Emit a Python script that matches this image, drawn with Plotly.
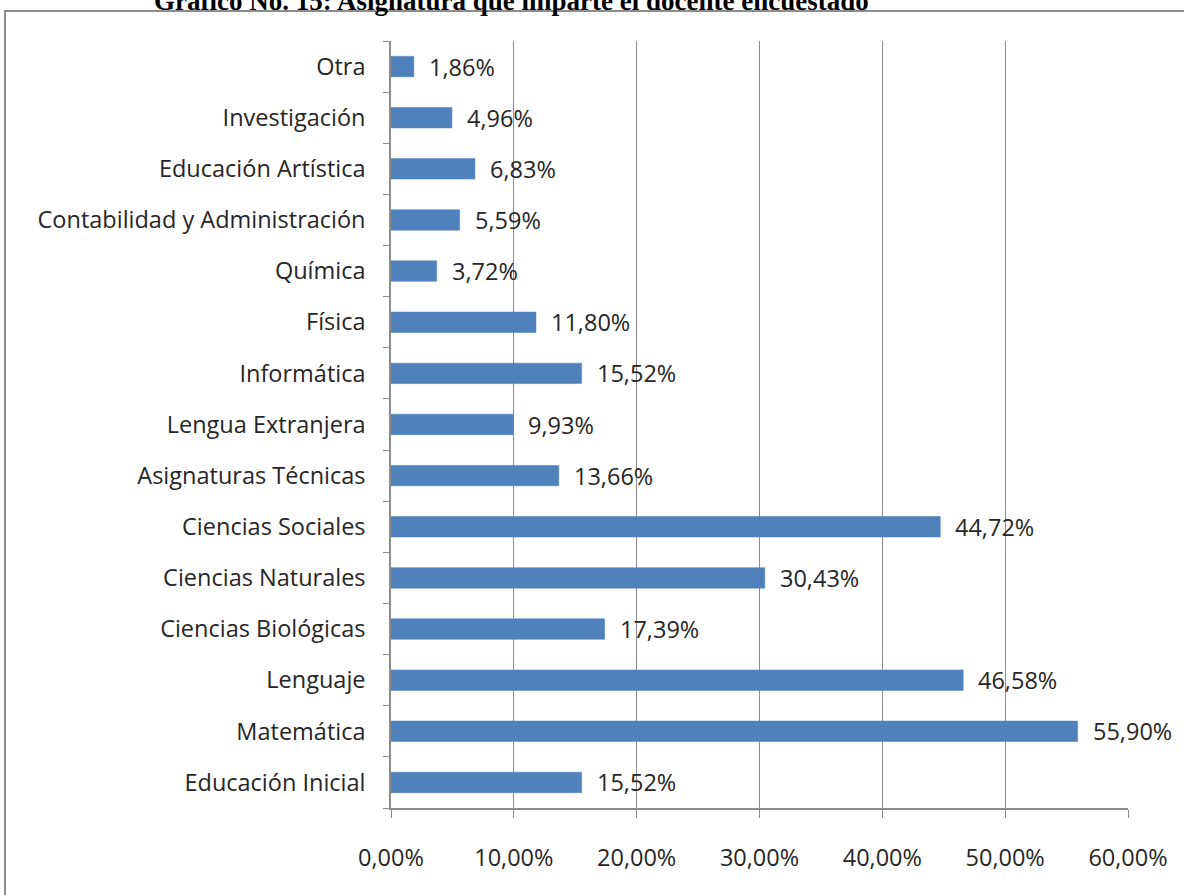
import plotly.graph_objects as go

categories = ["Educación Inicial", "Matemática", "Lenguaje", "Ciencias Biológicas",
              "Ciencias Naturales", "Ciencias Sociales", "Asignaturas Técnicas",
              "Lengua Extranjera", "Informática", "Física", "Química",
              "Contabilidad y Administración", "Educación Artística", "Investigación", "Otra"]
values = [15.52, 55.90, 46.58, 17.39, 30.43, 44.72, 13.66, 9.93, 15.52, 11.80, 3.72,
          5.59, 6.83, 4.96, 1.86]
tick_vals = [0, 10, 20, 30, 40, 50, 60]
tick_text = [f"{v:.2f}%".replace(".", ",") for v in tick_vals]
title_text = "Gráfico No. 15: Asignatura que imparte el docente encuestado"

W, H = 1184, 895
L, R, T, B = 391, 56, 41, 87
pw, ph = W - L - R, H - T - B

FONT = "Open Sans"
FS = 23.5

fig = go.Figure()
fig.add_trace(go.Bar(
    y=categories, x=values, orientation="h", width=0.4,
    marker=dict(color="#4F81BD", line=dict(color="#4A7EBB", width=0.5)),
    hoverinfo="skip",
))

for c, v in zip(categories, values):
    fig.add_annotation(x=v, y=c, xref="x", yref="y", text=f"{v:.2f}%".replace(".", ","),
                       showarrow=False, xanchor="left", xshift=13,
                       font=dict(family=FONT, size=FS, color="#262626"))


def px_x(p):
    return (p - L) / pw


def px_y(p):
    return (H - B - p) / ph


fig.add_shape(type="rect", xref="paper", yref="paper",
              x0=px_x(5), x1=px_x(1300), y0=px_y(1000), y1=px_y(11),
              line=dict(color="#8C8C8C", width=2), fillcolor="rgba(0,0,0,0)", layer="below")

fig.add_annotation(xref="paper", yref="paper", x=px_x(511), y=px_y(18),
                   xanchor="center", yanchor="bottom", showarrow=False,
                   text=f"<b>{title_text}</b>",
                   font=dict(family="Liberation Serif", size=27, color="black"))

fig.update_layout(
    width=W, height=H,
    margin=dict(l=L, r=R, t=T, b=B),
    paper_bgcolor="white", plot_bgcolor="white",
    showlegend=False,
    xaxis=dict(range=[0, 60], tickvals=tick_vals, ticktext=tick_text,
               showgrid=True, gridcolor="#8C8C8C", gridwidth=1,
               showline=True, linecolor="#8C8C8C", linewidth=1.5,
               ticks="outside", ticklen=8, tickcolor="#8C8C8C",
               ticklabelstandoff=20,
               tickfont=dict(family=FONT, size=FS, color="#262626"),
               zeroline=False, fixedrange=True),
    yaxis=dict(showline=True, linecolor="#8C8C8C", linewidth=1.5,
               ticks="outside", ticklen=6, tickcolor="#8C8C8C", tickson="boundaries",
               tickfont=dict(family=FONT, size=FS, color="#262626"),
               ticklabelstandoff=19, showgrid=False, fixedrange=True),
)

fig.write_html("out.html", config={"displayModeBar": False},
               post_script="document.body.style.margin='0';")
